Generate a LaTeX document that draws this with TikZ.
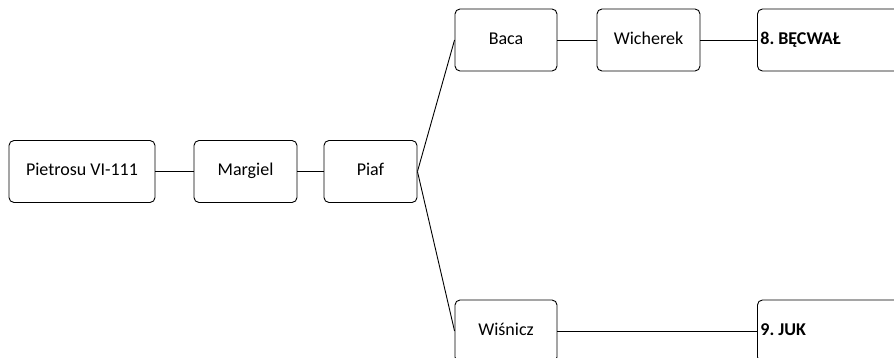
\documentclass[tikz,border=0pt]{standalone}
\usepackage{fontspec}
\setmainfont{Carlito}
\begin{document}
\frenchspacing
\begin{tikzpicture}[x=1pt,y=1pt,
  box/.style={draw, line width=0.9pt, rounded corners=5pt, minimum height=62pt, inner sep=0pt, text height=12.5pt, text depth=3.5pt, font=\fontsize{18}{21}\selectfont},
  endbox/.style={box, minimum width=170pt, text width=164pt, align=left, inner xsep=2pt, anchor=west, font=\fontsize{18}{21}\selectfont\bfseries},
  link/.style={line width=0.9pt}]
\useasboundingbox (0,0) rectangle (894,-358);
\clip (0,0) rectangle (894,-358);
\node[box, minimum width=146pt] (pie) at (82,-171.5) {Pietrosu VI-111};
\node[box, minimum width=103pt] (mar) at (245.5,-171.5) {Margiel};
\node[box, minimum width=93pt] (pia) at (370.5,-171.5) {Piaf};
\node[box, minimum width=102pt] (bac) at (506,-40) {Baca};
\node[box, minimum width=103pt] (wic) at (648.5,-40) {Wicherek};
\node[endbox] (bec) at (757,-40) {8.\hspace{0.22em}BĘCWAŁ};
\node[box, minimum width=102pt] (wis) at (506,-331) {Wiśnicz};
\node[endbox] (juk) at (757,-331) {9.\hspace{0.22em}JUK};
\draw[link] (pie.east) -- (mar.west);
\draw[link] (mar.east) -- (pia.west);
\draw[link] (pia.east) -- (bac.west);
\draw[link] (pia.east) -- (wis.west);
\draw[link] (bac.east) -- (wic.west);
\draw[link] (wic.east) -- (bec.west);
\draw[link] (wis.east) -- (juk.west);
\end{tikzpicture}
\end{document}
